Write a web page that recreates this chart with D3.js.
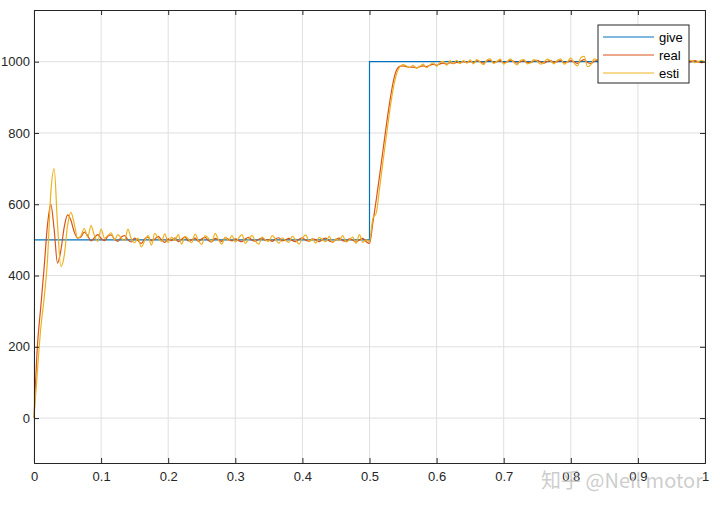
<!DOCTYPE html>
<html>
<head>
<meta charset="utf-8">
<script src="https://cdn.jsdelivr.net/npm/d3@7"></script>
<style>
	body { margin: 0; background: #fff; }
	text { font-family: "Liberation Sans", Arial, sans-serif; }
</style>
</head>
<body>
<div id="chart"></div>
<script>
// sample times (s), one every 5 ms
var times = d3.range(0, 201).map(function(i) { return +(i * 0.005).toFixed(3); });

var seriesNames = ["give", "real", "esti"];
var seriesColors = ["#0072BD", "#D95319", "#EDB120"];

// reference speed: step from 500 to 1000 at t = 0.5
var giveT = [0, 0.5, 0.5, 1];
var giveV = [500, 500, 1000, 1000];

var realV = [
	0, 200, 310, 420, 540, 600, 530, 435, 470, 535,
	570, 555, 522, 505, 508, 522, 512, 497, 506, 515,
	504, 498, 510, 514, 502, 496, 508, 512, 500, 494,
	505, 498, 490, 503, 508, 497, 502, 510, 500, 493,
	503, 498, 506, 495, 502, 508, 497, 500, 505, 496,
	503, 507, 498, 494, 504, 500, 496, 506, 502, 497,
	503, 498, 495, 503, 507, 499, 496, 502, 505, 498,
	501, 496, 503, 506, 497, 500, 504, 498, 495, 502,
	506, 499, 496, 503, 500, 495, 502, 505, 497, 494,
	501, 505, 498, 496, 503, 499, 494, 500, 504, 495,
	490, 548, 612, 680, 750, 820, 885, 940, 975, 987,
	988, 986, 984, 985, 983, 986, 988, 986, 990, 993,
	990, 994, 996, 993, 997, 995, 998, 997, 1000, 998,
	1001, 997, 1003, 1000, 996, 1002, 1004, 998, 1000, 1003,
	997, 999, 1004, 1001, 996, 1000, 1003, 998, 997, 1002,
	1004, 999, 996, 1001, 1003, 998, 1000, 1004, 997, 999,
	1003, 1000, 995, 1002, 1006, 998, 995, 1001, 1004, 999,
	997, 1002, 1003, 998, 1000, 1004, 998, 996, 1001, 1003,
	999, 997, 1002, 1004, 999, 997, 1001, 1003, 998, 1000,
	1004, 999, 996, 1001, 1003, 998, 1000, 1003, 999, 997,
	1001
];

var estiV = [
	0, 130, 250, 335, 440, 630, 700, 545, 425, 455,
	540, 577, 545, 505, 512, 532, 508, 540, 512, 496,
	530, 505, 512, 520, 500, 515, 505, 498, 530, 503,
	492, 505, 480, 498, 512, 485, 518, 505, 496, 517,
	492, 508, 498, 515, 488, 510, 503, 492, 516, 498,
	487, 512, 505, 495, 518, 500, 488, 508, 498, 512,
	494, 505, 515, 490, 503, 512, 496, 488, 508, 500,
	496, 512, 502, 490, 506, 498, 493, 510, 500, 488,
	505, 514, 496, 502, 491, 507, 500, 495, 510, 492,
	503, 498, 512, 494, 500, 508, 490, 515, 493, 500,
	495, 560, 575, 645, 718, 790, 860, 920, 963, 985,
	992, 988, 984, 990, 982, 987, 993, 983, 991, 997,
	987, 998, 1001, 990, 1003, 994, 1004, 995, 1003, 996,
	1005, 994, 1006, 998, 992, 1005, 1008, 995, 1001, 1007,
	993, 1000, 1008, 998, 991, 1004, 1006, 994, 997, 1006,
	1001, 993, 999, 1007, 1002, 994, 1004, 1008, 993, 1000,
	1010, 996, 988, 1012, 1015, 986, 992, 1008, 1004, 996,
	991, 1005, 1002, 995, 1003, 1006, 994, 998, 1004, 1001,
	995, 1003, 1006, 997, 994, 1004, 1002, 996, 1001, 1005,
	995, 999, 1004, 998, 994, 1003, 1004, 997, 1000, 1004,
	998
];

var xTicks = [0, 0.1, 0.2, 0.3, 0.4, 0.5, 0.6, 0.7, 0.8, 0.9, 1];
var yTicks = [0, 200, 400, 600, 800, 1000];

(function() {
	var width = 720,
		height = 509,
		plotLeft = 34,
		plotRight = 705,
		plotTop = 10,
		plotBottom = 463;

	var axisColor = "#262626";

	var x = d3.scaleLinear().domain([0, 1]).range([plotLeft, plotRight]);
	var y = d3.scaleLinear().domain([-126, 1145]).range([plotBottom, plotTop]);

	var svg = d3.select("#chart")
		.append("svg")
		.attr("width", width)
		.attr("height", height);

	// grid
	svg.append("g")
		.selectAll("line")
		.data(xTicks)
		.enter().append("line")
		.attr("x1", function(d) { return x(d); })
		.attr("x2", function(d) { return x(d); })
		.attr("y1", plotTop)
		.attr("y2", plotBottom)
		.attr("stroke", "#dfdfdf")
		.attr("stroke-width", 1);

	svg.append("g")
		.selectAll("line")
		.data(yTicks)
		.enter().append("line")
		.attr("x1", plotLeft)
		.attr("x2", plotRight)
		.attr("y1", function(d) { return y(d); })
		.attr("y2", function(d) { return y(d); })
		.attr("stroke", "#dfdfdf")
		.attr("stroke-width", 1);

	// lines
	var plot = svg.append("g");

	var giveLine = d3.line()
		.x(function(d, i) { return x(giveT[i]); })
		.y(function(d) { return y(d); });

	var smooth = d3.line()
		.x(function(d, i) { return x(times[i]); })
		.y(function(d) { return y(d); })
		.curve(d3.curveMonotoneX);

	plot.append("path")
		.attr("d", giveLine(giveV))
		.attr("fill", "none")
		.attr("stroke", seriesColors[0])
		.attr("stroke-width", 1.2);

	plot.append("path")
		.attr("d", smooth(realV))
		.attr("fill", "none")
		.attr("stroke", seriesColors[1])
		.attr("stroke-width", 1.2);

	plot.append("path")
		.attr("d", smooth(estiV))
		.attr("fill", "none")
		.attr("stroke", seriesColors[2])
		.attr("stroke-width", 1.2);

	// axes (MATLAB style, ticks pointing in, box on)
	svg.append("g")
		.attr("transform", "translate(0," + plotBottom + ")")
		.call(d3.axisBottom(x).tickValues(xTicks).tickSize(-5).tickPadding(9)
			.tickFormat(function(d) { return d3.format("")(d); }));

	svg.append("g")
		.attr("transform", "translate(0," + plotTop + ")")
		.call(d3.axisTop(x).tickValues(xTicks).tickSize(-5).tickFormat(""));

	svg.append("g")
		.attr("transform", "translate(" + plotLeft + ",0)")
		.call(d3.axisLeft(y).tickValues(yTicks).tickSize(-5).tickPadding(4)
			.tickFormat(d3.format("d")));

	svg.append("g")
		.attr("transform", "translate(" + plotRight + ",0)")
		.call(d3.axisRight(y).tickValues(yTicks).tickSize(-5).tickFormat(""));

	svg.selectAll(".domain").attr("stroke", axisColor).attr("stroke-width", 1);
	svg.selectAll(".tick line").attr("stroke", axisColor);
	svg.selectAll(".tick text")
		.attr("fill", axisColor)
		.style("font-size", "13px")
		.style("font-family", "Liberation Sans, Arial, sans-serif");

	// legend
	var legend = svg.append("g")
		.attr("transform", "translate(598,25)");

	legend.append("rect")
		.attr("width", 91)
		.attr("height", 58)
		.attr("fill", "#fff")
		.attr("stroke", axisColor)
		.attr("stroke-width", 1);

	var items = legend.selectAll(".item")
		.data(seriesNames)
		.enter().append("g")
		.attr("class", "item")
		.attr("transform", function(d, i) { return "translate(0," + (12 + i * 18) + ")"; });

	items.append("line")
		.attr("x1", 5)
		.attr("x2", 56)
		.attr("stroke", function(d, i) { return seriesColors[i]; })
		.attr("stroke-width", 1.2);

	items.append("text")
		.attr("x", 61)
		.attr("dy", "0.35em")
		.attr("fill", "#000")
		.style("font-size", "13px")
		.text(function(d) { return d; });

	// watermark
	svg.append("text")
		.attr("x", 703)
		.attr("y", 488)
		.attr("text-anchor", "end")
		.attr("fill", "#c4c4c4")
		.attr("fill-opacity", 0.85)
		.style("font-family", "Noto Sans CJK SC, Noto Sans, sans-serif")
		.style("font-size", "20px")
		.text("知乎 @Neil motor");
})();
</script>
</body>
</html>
